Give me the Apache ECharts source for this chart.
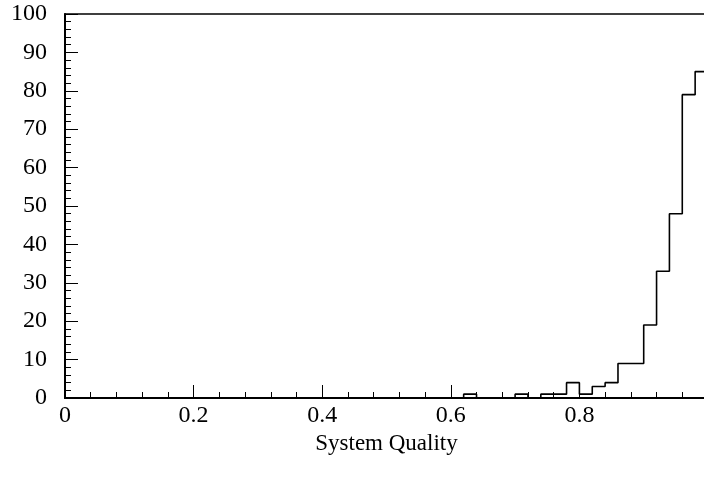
<!DOCTYPE html>
<html>
<head>
<meta charset="utf-8">
<script src="https://cdn.jsdelivr.net/npm/echarts@6/dist/echarts.min.js"></script>
<style>html,body{margin:0;padding:0;background:#fff}#c{width:704px;height:477px}</style>
</head>
<body>
<div id="c"></div>
<script>
// Histogram bins of System Quality (bin width 0.02, from 0 to 1)
const binWidth = 0.02;
const binCounts = [
  0,0,0,0,0,0,0,0,0,0,
  0,0,0,0,0,0,0,0,0,0,
  0,0,0,0,0,0,0,0,0,0,
  0,1,0,0,0,1,0,1,1,4,
  1,3,4,9,9,19,33,48,79,85
];
const xTicks = [0, 0.2, 0.4, 0.6, 0.8, 1];
const yTicks = [0,10,20,30,40,50,60,70,80,90,100];
const xTitle = 'System Quality';

const pts = binCounts.map((v, i) => [+(i * binWidth).toFixed(2), v]);
pts.push([1, binCounts[binCounts.length - 1]]);

const font = 'Liberation Serif';
const chart = echarts.init(document.getElementById('c'), null, {renderer: 'canvas'});
chart.setOption({
  animation: false,
  grid: {left: 65, right: -4, top: 14, bottom: 79, outerBoundsMode: 'none', containLabel: false,
    show: true, borderColor: '#000', borderWidth: 1.5, backgroundColor: 'transparent'},
  xAxis: {
    type: 'value', min: 0, max: 1, interval: 0.2,
    name: xTitle, nameLocation: 'middle', nameGap: 29,
    nameTextStyle: {fontFamily: font, fontSize: 23, color: '#000'},
    axisLine: {lineStyle: {color: '#000', width: 2}},
    axisTick: {inside: true, length: 13, lineStyle: {color: '#000', width: 1}},
    minorTick: {show: true, splitNumber: 5, length: 6, lineStyle: {color: '#000', width: 1}},
    splitLine: {show: false},
    axisLabel: {fontFamily: font, fontSize: 24, color: '#000', margin: 6,
      formatter: v => xTicks.indexOf(+v.toFixed(2)) >= 0 ? String(+v.toFixed(2)) : ''}
  },
  yAxis: {
    type: 'value', min: 0, max: 100, interval: 10,
    axisLine: {show: true, lineStyle: {color: '#000', width: 2}},
    axisTick: {show: true, inside: true, length: 13, lineStyle: {color: '#000', width: 1}},
    minorTick: {show: true, splitNumber: 5, length: 6, lineStyle: {color: '#000', width: 1}},
    splitLine: {show: false},
    axisLabel: {fontFamily: font, fontSize: 24, color: '#000', margin: 18,
      formatter: v => yTicks.indexOf(v) >= 0 ? String(v) : ''}
  },
  series: [{
    type: 'line', step: 'end', data: pts, symbol: 'none',
    lineStyle: {color: '#000', width: 1.6}
  }]
});
</script>
</body>
</html>
